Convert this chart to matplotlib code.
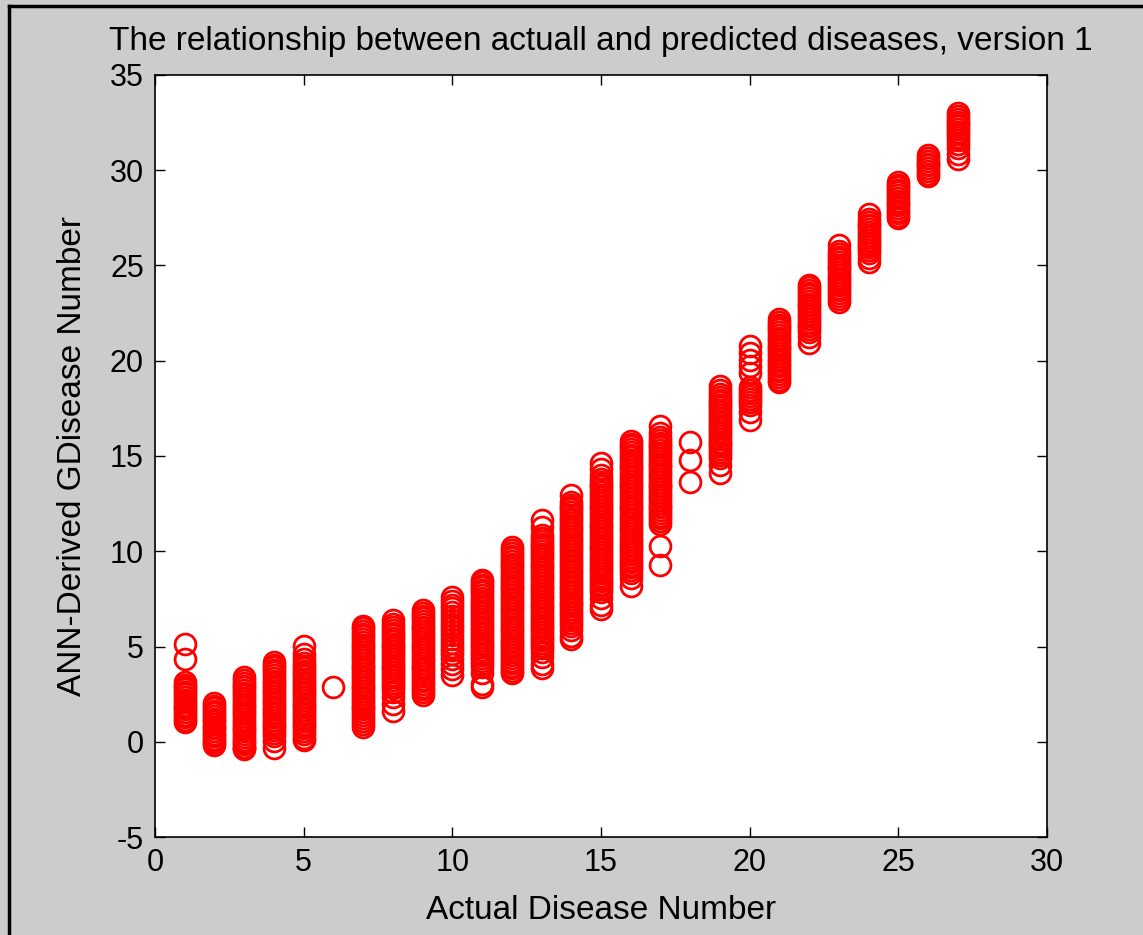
import matplotlib.pyplot as plt
from matplotlib.lines import Line2D

# ANN-derived disease number for each actual disease number
pred_01 = [5.15, 4.35, 3.15, 3.0, 2.85, 2.75, 2.6, 2.5, 2.35, 2.2, 2.1, 1.95, 1.8, 1.7, 1.55, 1.4, 1.3, 1.15, 1.05]
pred_02 = [2.05, 1.9, 1.75, 1.6, 1.5, 1.35, 1.2, 1.1, 0.95, 0.8, 0.7, 0.55, 0.4, 0.3, 0.15, 0.05, -0.05, -0.15]
pred_03 = [3.4, 3.25, 3.1, 2.95, 2.85, 2.7, 2.55, 2.45, 2.3, 2.15, 2.0, 1.9, 1.75, 1.6, 1.5, 1.35, 1.2, 1.05,
           0.95, 0.8, 0.65, 0.55, 0.4, 0.25, 0.1, 0.0, -0.1, -0.25, -0.35, -0.4]
pred_04 = [4.2, 4.05, 3.9, 3.75, 3.65, 3.5, 3.35, 3.2, 3.1, 2.95, 2.8, 2.65, 2.55, 2.4, 2.25, 2.1, 2.0, 1.85,
           1.7, 1.55, 1.45, 1.3, 1.15, 1.0, 0.9, 0.75, 0.6, 0.45, 0.3, 0.05, -0.35]
pred_05 = [5.05, 4.6, 4.35, 4.15, 4.0, 3.85, 3.7, 3.6, 3.45, 3.3, 3.15, 3.05, 2.9, 2.75, 2.6, 2.5, 2.35, 2.2,
           2.05, 1.95, 1.8, 1.65, 1.5, 1.4, 1.25, 1.1, 0.95, 0.85, 0.7, 0.55, 0.4, 0.2, 0.1]
pred_06 = [2.85]
pred_07 = [6.1, 5.95, 5.8, 5.65, 5.55, 5.4, 5.25, 5.1, 5.0, 4.85, 4.7, 4.55, 4.45, 4.3, 4.15, 4.0, 3.9, 3.75,
           3.6, 3.45, 3.35, 3.2, 3.05, 2.9, 2.8, 2.65, 2.5, 2.35, 2.25, 2.1, 1.95, 1.8, 1.7, 1.55, 1.4, 1.25,
           1.1, 0.95, 0.8]
pred_08 = [6.4, 6.2, 6.0, 5.85, 5.7, 5.6, 5.45, 5.3, 5.15, 5.05, 4.9, 4.75, 4.6, 4.5, 4.35, 4.2, 4.05, 3.95,
           3.8, 3.65, 3.5, 3.4, 3.25, 3.1, 2.95, 2.8, 2.6, 2.35, 2.0, 1.6]
pred_09 = [6.9, 6.75, 6.6, 6.5, 6.35, 6.2, 6.05, 5.95, 5.8, 5.65, 5.5, 5.4, 5.25, 5.1, 4.95, 4.85, 4.7, 4.55,
           4.4, 4.3, 4.15, 4.0, 3.85, 3.75, 3.6, 3.45, 3.3, 3.2, 3.05, 2.9, 2.75, 2.6, 2.45]
pred_10 = [7.6, 7.4, 7.2, 7.0, 6.8, 6.6, 6.4, 6.2, 6.0, 5.8, 5.6, 5.4, 5.2, 5.0, 4.8, 4.6, 4.35, 4.1, 3.8, 3.5]
pred_11 = [8.5, 8.4, 8.25, 8.1, 7.95, 7.85, 7.7, 7.55, 7.4, 7.3, 7.15, 7.0, 6.85, 6.75, 6.6, 6.45, 6.3, 6.2,
           6.05, 5.9, 5.75, 5.65, 5.5, 5.35, 5.2, 5.1, 4.95, 4.8, 4.65, 4.55, 4.4, 4.25, 4.1, 3.95, 3.6, 3.05, 2.85]
pred_12 = [10.2, 10.05, 9.9, 9.75, 9.65, 9.5, 9.35, 9.2, 9.1, 8.95, 8.8, 8.65, 8.55, 8.4, 8.25, 8.1, 8.0, 7.85,
           7.7, 7.55, 7.45, 7.3, 7.15, 7.0, 6.9, 6.75, 6.6, 6.45, 6.35, 6.2, 6.05, 5.9, 5.8, 5.65, 5.5, 5.35,
           5.25, 5.1, 4.95, 4.8, 4.7, 4.55, 4.4, 4.25, 4.15, 4.0, 3.85, 3.7, 3.6]
pred_13 = [11.65, 11.25, 10.85, 10.7, 10.55, 10.4, 10.3, 10.15, 10.0, 9.85, 9.75, 9.6, 9.45, 9.3, 9.2, 9.05,
           8.9, 8.75, 8.65, 8.5, 8.35, 8.2, 8.1, 7.95, 7.8, 7.65, 7.55, 7.4, 7.25, 7.1, 7.0, 6.85, 6.7, 6.55,
           6.45, 6.3, 6.15, 6.0, 5.9, 5.75, 5.6, 5.45, 5.35, 5.2, 5.05, 4.9, 4.7, 4.45, 4.1, 3.85]
pred_14 = [12.95, 12.6, 12.45, 12.3, 12.2, 12.05, 11.9, 11.75, 11.65, 11.5, 11.35, 11.2, 11.1, 10.95, 10.8,
           10.65, 10.55, 10.4, 10.25, 10.1, 10.0, 9.85, 9.7, 9.55, 9.45, 9.3, 9.15, 9.0, 8.9, 8.75, 8.6, 8.45,
           8.35, 8.2, 8.05, 7.9, 7.8, 7.65, 7.5, 7.35, 7.25, 7.1, 6.95, 6.8, 6.7, 6.55, 6.4, 6.25, 6.1, 5.85,
           5.55, 5.4]
pred_15 = [14.65, 14.3, 14.0, 13.8, 13.65, 13.5, 13.4, 13.25, 13.1, 12.95, 12.85, 12.7, 12.55, 12.4, 12.3,
           12.15, 12.0, 11.85, 11.75, 11.6, 11.45, 11.3, 11.2, 11.05, 10.9, 10.75, 10.65, 10.5, 10.35, 10.2,
           10.1, 9.95, 9.8, 9.65, 9.55, 9.4, 9.25, 9.1, 9.0, 8.85, 8.7, 8.55, 8.45, 8.3, 8.15, 8.0, 7.85, 7.55,
           7.2, 6.95]
pred_16 = [15.8, 15.65, 15.5, 15.35, 15.2, 15.05, 14.95, 14.8, 14.65, 14.5, 14.4, 14.25, 14.1, 13.95, 13.85,
           13.7, 13.55, 13.4, 13.3, 13.15, 13.0, 12.85, 12.75, 12.6, 12.45, 12.3, 12.2, 12.05, 11.9, 11.75,
           11.65, 11.5, 11.35, 11.2, 11.1, 10.95, 10.8, 10.65, 10.55, 10.4, 10.25, 10.1, 10.0, 9.85, 9.7, 9.55,
           9.45, 9.3, 9.15, 9.0, 8.85, 8.6, 8.15]
pred_17 = [16.55, 16.2, 16.0, 15.85, 15.7, 15.6, 15.45, 15.3, 15.15, 15.05, 14.9, 14.75, 14.6, 14.5, 14.35,
           14.2, 14.05, 13.95, 13.8, 13.65, 13.5, 13.4, 13.25, 13.1, 12.95, 12.85, 12.7, 12.55, 12.4, 12.3,
           12.15, 12.0, 11.85, 11.75, 11.6, 11.45, 10.25, 9.3]
pred_18 = [15.75, 14.8, 13.65]
pred_19 = [18.7, 18.45, 18.25, 18.1, 17.95, 17.85, 17.7, 17.55, 17.4, 17.3, 17.15, 17.0, 16.85, 16.75, 16.6,
           16.45, 16.3, 16.2, 16.05, 15.9, 15.75, 15.65, 15.5, 15.35, 15.2, 15.05, 14.9, 14.55, 14.1]
pred_20 = [20.75, 20.4, 20.05, 19.7, 19.35, 18.6, 18.45, 18.3, 18.15, 18.0, 17.85, 17.7, 17.3, 16.9]
pred_21 = [22.2, 22.05, 21.9, 21.75, 21.65, 21.5, 21.35, 21.2, 21.1, 20.95, 20.8, 20.65, 20.55, 20.4, 20.25,
           20.1, 20.0, 19.85, 19.7, 19.55, 19.45, 19.3, 19.15, 19.0, 18.9]
pred_22 = [24.0, 23.85, 23.7, 23.55, 23.45, 23.3, 23.15, 23.0, 22.9, 22.75, 22.6, 22.45, 22.35, 22.2, 22.05,
           21.9, 21.8, 21.65, 21.5, 21.25, 20.95]
pred_23 = [26.05, 25.75, 25.6, 25.45, 25.35, 25.2, 25.05, 24.9, 24.8, 24.65, 24.5, 24.35, 24.25, 24.1, 23.95,
           23.8, 23.7, 23.55, 23.4, 23.25, 23.1]
pred_24 = [27.7, 27.45, 27.3, 27.15, 27.05, 26.9, 26.75, 26.6, 26.5, 26.35, 26.2, 26.05, 25.95, 25.8, 25.65,
           25.4, 25.2]
pred_25 = [29.4, 29.25, 29.1, 28.95, 28.85, 28.7, 28.55, 28.4, 28.3, 28.15, 28.0, 27.85, 27.75, 27.6, 27.5]
pred_26 = [30.8, 30.65, 30.5, 30.35, 30.25, 30.1, 29.95, 29.8, 29.7]
pred_27 = [33.0, 32.85, 32.7, 32.55, 32.45, 32.3, 32.15, 32.0, 31.9, 31.75, 31.6, 31.4, 31.15, 30.85, 30.6]

actual_numbers = list(range(1, 28))
predicted = [pred_01, pred_02, pred_03, pred_04, pred_05, pred_06, pred_07, pred_08, pred_09,
             pred_10, pred_11, pred_12, pred_13, pred_14, pred_15, pred_16, pred_17, pred_18,
             pred_19, pred_20, pred_21, pred_22, pred_23, pred_24, pred_25, pred_26, pred_27]

xs, ys = [], []
for a, vals in zip(actual_numbers, predicted):
    xs += [a] * len(vals)
    ys += vals

plt.rcParams['font.family'] = ['Liberation Sans', 'DejaVu Sans']
plt.rcParams['axes.unicode_minus'] = False

fig = plt.figure(figsize=(11.43, 9.35), dpi=100, facecolor='#cccccc')
ax = fig.add_axes([0.1356, 0.1048, 0.7804, 0.815])
# no antialiasing, like the original MATLAB render -> overlapping rings merge into solid bars
ax.plot(xs, ys, 'o', color='red', markerfacecolor='none', markersize=15, markeredgewidth=2.0,
        antialiased=False)

ax.set_xlim(0, 30)
ax.set_ylim(-5, 35)
ax.set_xticks(range(0, 31, 5))
ax.set_yticks(range(-5, 36, 5))
ax.tick_params(direction='in', top=True, right=True, length=7, width=1, labelsize=22, pad=8)
for s in ax.spines.values():
    s.set_linewidth(1.2)

ax.set_title('The relationship between actuall and predicted diseases, version 1', fontsize=24, pad=18)
ax.set_xlabel('Actual Disease Number', fontsize=24, labelpad=12)
ax.set_ylabel('ANN-Derived GDisease Number', fontsize=24, labelpad=16)

# dark frame lines on the left and top edge of the window capture
fig.add_artist(Line2D([0.008, 0.008], [0, 0.994], transform=fig.transFigure, color='black', lw=2.5))
fig.add_artist(Line2D([0.008, 1], [0.994, 0.994], transform=fig.transFigure, color='black', lw=2.5))

plt.savefig('out.png', dpi=100, facecolor=fig.get_facecolor())
